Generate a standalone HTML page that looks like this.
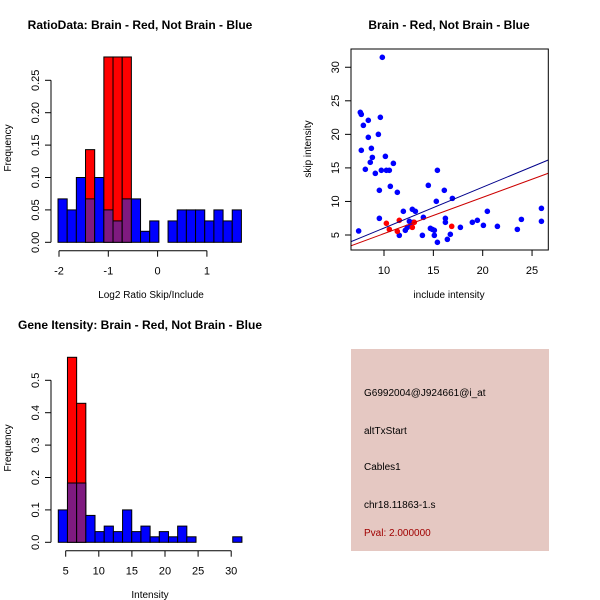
<!DOCTYPE html>
<html><head><meta charset="utf-8"><style>
html,body{margin:0;padding:0;background:#fff}
svg{display:block;font-family:"Liberation Sans",sans-serif}
</style></head><body>
<svg id="c" width="600" height="600" viewBox="0 0 600 600"></svg>
<script>
// Panel 1: ratio histogram
const ratioBlue=[0.067,0.05,0.1,0.067,0.1,0.05,0.033,0.067,0.067,0.017,0.033,0,0.033,0.05,0.05,0.05,0.033,0.05,0.033,0.05];
const ratioRed=[0,0,0,0.143,0,0.286,0.286,0.286,0,0,0,0,0,0,0,0,0,0,0,0];
const ratioXTicks=[-2,-1,0,1];
const ratioYTicks=[0,0.05,0.10,0.15,0.20,0.25];
const ratioYLabels=["0.00","0.05","0.10","0.15","0.20","0.25"];
const ratioStart=-2.02, ratioWidth=0.186;
// Panel 2: scatter
const blueX=[7.43,7.6,7.7,7.7,7.91,8.11,8.41,8.41,8.61,8.72,8.82,9.12,9.43,9.53,9.53,9.63,9.73,9.83,10.14,10.24,10.54,10.64,10.95,11.35,11.55,11.96,12.16,12.36,12.57,12.77,12.87,12.97,13.18,13.89,13.99,14.49,14.7,14.9,15.1,15.1,15.3,15.41,15.41,16.11,16.22,16.22,16.42,16.72,16.93,17.74,18.95,19.46,20.07,20.47,21.49,23.51,23.92,25.95,25.95];
const blueY=[5.6,23.28,22.98,17.62,21.34,14.79,22.09,19.56,15.83,17.92,16.57,14.19,20.0,11.66,7.48,22.54,14.64,31.48,16.72,14.64,14.64,12.25,15.68,11.36,4.95,8.53,5.7,6.14,7.04,6.59,8.83,6.89,8.53,4.95,7.63,12.4,5.99,5.84,5.7,4.95,10.02,14.64,3.91,11.66,7.48,6.89,4.35,5.1,10.46,6.14,6.89,7.19,6.44,8.53,6.29,5.84,7.33,8.97,7.04];
const redX=[10.24,10.54,11.55,11.35,12.87,13.07,16.86];
const redY=[6.74,5.84,7.19,5.55,6.14,6.89,6.29];
const blueLine=[4.0,16.18];
const redLine=[3.4,14.2];
const scatXTicks=[10,15,20,25];
const scatYTicks=[5,10,15,20,25,30];
// Panel 3: intensity histogram
const intBlue=[0.1,0.183,0.183,0.083,0.033,0.05,0.033,0.1,0.033,0.05,0.017,0.033,0.017,0.05,0.017,0,0,0,0,0.017];
const intRed=[0,0.571,0.429,0,0,0,0,0,0,0,0,0,0,0,0,0,0,0,0,0];
const intXTicks=[5,10,15,20,25,30];
const intYTicks=[0,0.1,0.2,0.3,0.4,0.5];
const intYLabels=["0.0","0.1","0.2","0.3","0.4","0.5"];
const intStart=3.88, intWidth=1.387;

const svg=document.getElementById('c');
const NS='http://www.w3.org/2000/svg';
function mk(tag,attrs,name,parent){const e=document.createElementNS(NS,tag);for(const k in attrs)e.setAttribute(k,attrs[k]);


(parent||svg).appendChild(e);return e;}
function txt(x,y,s,name,opt){opt=opt||{};const t=mk('text',{x:x,y:y,'font-size':opt.size||11,'text-anchor':opt.anchor||'middle',fill:opt.fill||'#000','font-weight':opt.bold?'bold':'normal'},name);
if(opt.rot)t.setAttribute('transform','rotate(-90 '+x+' '+y+')');t.textContent=s;return t;}

function hist(o){
  const sx=v=>o.x0+(v-o.v0)*o.kx, sy=v=>o.y0-v*o.ky;
  for(let i=0;i<o.blue.length;i++){
    const a=sx(o.start+i*o.width), b=sx(o.start+(i+1)*o.width);
    const hb=o.blue[i], hr=o.red[i];
    if(hr>0){mk('rect',{x:a,y:sy(hr),width:b-a,height:sy(0)-sy(hr),fill:'#ff0000',stroke:'#000','stroke-width':1},o.p+'-red-bar-'+i);}
    if(hb>0){mk('rect',{x:a,y:sy(hb),width:b-a,height:sy(0)-sy(hb),fill:hr>0?'#7f1a80':'#0000ff',stroke:'#000','stroke-width':1},o.p+'-blue-bar-'+i);}
  }
  // y axis
  const yt=o.yticks;
  mk('line',{x1:o.ax,x2:o.ax,y1:sy(yt[0]),y2:sy(yt[yt.length-1]),stroke:'#000'},o.p+'-y-axis');
  yt.forEach((v,i)=>{mk('line',{x1:o.ax-6,x2:o.ax,y1:sy(v),y2:sy(v),stroke:'#000'},o.p+'-y-tick');
    txt(o.ax-12,sy(v),o.ylabels[i],o.p+'-y-tick-label',{rot:true});});
  const xt=o.xticks;
  mk('line',{x1:sx(xt[0]),x2:sx(xt[xt.length-1]),y1:o.ay,y2:o.ay,stroke:'#000'},o.p+'-x-axis');
  xt.forEach(v=>{mk('line',{x1:sx(v),x2:sx(v),y1:o.ay,y2:o.ay+6,stroke:'#000'},o.p+'-x-tick');
    txt(sx(v),o.ay+24,String(v),o.p+'-x-tick-label');});
}
// Panel 1
hist({p:'ratio',blue:ratioBlue,red:ratioRed,start:ratioStart,width:ratioWidth,x0:108.3,v0:-1,kx:49.3,y0:242.3,ky:648,ax:51,ay:250.7,
 yticks:ratioYTicks,ylabels:ratioYLabels,xticks:ratioXTicks});
txt(140,29,'RatioData: Brain - Red, Not Brain - Blue','ratio-title',{bold:true,size:12});
txt(151,298,'Log2 Ratio Skip/Include','ratio-x-axis-title',{size:10});
txt(11,148,'Frequency','ratio-y-axis-title',{rot:true,size:10});
// Panel 3
hist({p:'intensity',blue:intBlue,red:intRed,start:intStart,width:intWidth,x0:65.7,v0:5,kx:6.62,y0:542.3,ky:324,ax:51,ay:550.7,
 yticks:intYTicks,ylabels:intYLabels,xticks:intXTicks});
txt(140,329,'Gene Itensity: Brain - Red, Not Brain - Blue','intensity-title',{bold:true,size:12});
txt(150,598,'Intensity','intensity-x-axis-title',{size:10});
txt(11,448,'Frequency','intensity-y-axis-title',{rot:true,size:10});
// Panel 2
(function(){
  const L=351,R=548.3,T=49,B=250;
  const sx=v=>384+(v-10)*9.87, sy=v=>235-(v-5)*6.71;
  const xmin=10-(384-L)/9.87, xmax=10+(R-384)/9.87;
  const cp=mk('clipPath',{id:'sc'},'scatter-clip');mk('rect',{x:L,y:T,width:R-L,height:B-T},'scatter-clip-rect',cp);
  const g=mk('g',{'clip-path':'url(#sc)'},'scatter-plot-area');
  blueX.forEach((x,i)=>mk('circle',{cx:sx(x),cy:sy(blueY[i]),r:2.8,fill:'#0000ff'},'blue-point',g));
  redX.forEach((x,i)=>mk('circle',{cx:sx(x),cy:sy(redY[i]),r:2.8,fill:'#ff0000'},'red-point',g));
  mk('line',{x1:sx(xmin),x2:sx(xmax),y1:sy(blueLine[0]),y2:sy(blueLine[1]),stroke:'#00008b','stroke-width':1},'blue-fit-line',g);
  mk('line',{x1:sx(xmin),x2:sx(xmax),y1:sy(redLine[0]),y2:sy(redLine[1]),stroke:'#cc0000','stroke-width':1},'red-fit-line',g);
  mk('rect',{x:L,y:T,width:R-L,height:B-T,fill:'none',stroke:'#000'},'scatter-frame');
  scatXTicks.forEach(v=>{mk('line',{x1:sx(v),x2:sx(v),y1:B,y2:B+6,stroke:'#000'},'scatter-x-tick');txt(sx(v),B+24,String(v),'scatter-x-tick-label');});
  scatYTicks.forEach(v=>{mk('line',{x1:L-6,x2:L,y1:sy(v),y2:sy(v),stroke:'#000'},'scatter-y-tick');txt(L-12,sy(v),String(v),'scatter-y-tick-label',{rot:true});});
  txt(449,29,'Brain - Red, Not Brain - Blue','scatter-title',{bold:true,size:12});
  txt(449,298,'include intensity','scatter-x-axis-title',{size:10});
  txt(311,149,'skip intensity','scatter-y-axis-title',{rot:true,size:10});
})();
// Panel 4 info box
mk('rect',{x:351,y:349,width:198,height:202,fill:'#e5c8c2'},'info-box');
txt(364,396,'G6992004@J924661@i_at','probe-id-text',{anchor:'start',size:10});
txt(364,434,'altTxStart','event-type-text',{anchor:'start',size:10});
txt(364,470,'Cables1','gene-name-text',{anchor:'start',size:10});
txt(364,508,'chr18.11863-1.s','locus-text',{anchor:'start',size:10});
txt(364,536,'Pval: 2.000000','pval-text',{anchor:'start',size:10,fill:'#a00000'});
</script>
</body></html>
